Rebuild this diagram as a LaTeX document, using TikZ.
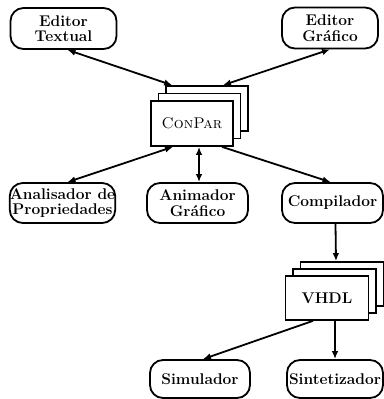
\documentclass[tikz,border=0pt]{standalone}
\usetikzlibrary{arrows.meta}
\begin{document}
\begin{tikzpicture}[x=1pt,y=-1pt,
  lbl/.style={font=\fontsize{15.5}{15.5}\selectfont\bfseries,align=center},
  rbox/.style={lbl,draw,line width=1.8pt,rounded corners=13pt,inner sep=0pt,minimum height=40pt},
  sbox/.style={draw,fill=white,line width=1.7pt,inner sep=0pt,minimum width=82pt,minimum height=45pt},
  conn/.style={line width=1.8pt,-{Latex[length=8pt,width=6.5pt]}},
  dconn/.style={line width=1.8pt,{Latex[length=8pt,width=6.5pt]}-{Latex[length=8pt,width=6.5pt]}}]
\useasboundingbox (0,0) rectangle (383,399);
% top row
\node[rbox,minimum width=106pt,minimum height=41pt] (et) at (63.5,28.5) {Editor\\Textual};
\node[rbox,minimum width=96pt,minimum height=41pt] (eg) at (330,28) {Editor\\Gr\'afico};
% ConPar stack
\node[sbox] (conparB) at (207,108.5) {};
\node[sbox] (conparM) at (199.5,116) {};
\node[sbox,font=\fontsize{15.5}{15.5}\selectfont] (conpar) at (192,123.5) {\textsc{ConPar}};
% middle row
\node[rbox,minimum width=105pt] (an) at (62.5,203) {Analisador de\\Propriedades};
\node[rbox,minimum width=101pt] (anim) at (197.5,203) {Animador\\Gr\'afico};
\node[rbox,minimum width=101pt] (comp) at (332.5,203) {Compilador};
% VHDL stack
\node[sbox,minimum width=83pt,minimum height=44pt] (vhdlB) at (342,284) {};
\node[sbox,minimum width=83pt,minimum height=44pt] (vhdlM) at (334.5,291) {};
\node[sbox,lbl,minimum width=83pt,minimum height=44pt] (vhdl) at (327,298) {VHDL};
% bottom row
\node[rbox,minimum width=100pt,minimum height=38pt] (sim) at (200,379) {Simulador};
\node[rbox,minimum width=96pt,minimum height=38pt] (sint) at (335,379) {Sintetizador};
% connectors
\draw[dconn] ([xshift=4pt]et.south) -- ([xshift=7pt]conparB.north west);
\draw[dconn] (eg.south) -- ([xshift=16pt]conparB.north);
\draw[dconn] ([xshift=-19pt]conpar.south) -- ([xshift=5pt]an.north);
\draw[dconn] ([xshift=7pt]conpar.south) -- ([xshift=1.5pt]anim.north);
\draw[conn] ([xshift=30pt]conpar.south) -- ([xshift=-2pt]comp.north);
\draw[conn] ([xshift=3pt]comp.south) -- ([xshift=-6pt]vhdlB.north);
\draw[conn] ([xshift=-14pt]vhdl.south) -- ([xshift=3pt]sim.north);
\draw[conn] (sint.north |- vhdl.south) -- (sint.north);
\end{tikzpicture}
\end{document}
